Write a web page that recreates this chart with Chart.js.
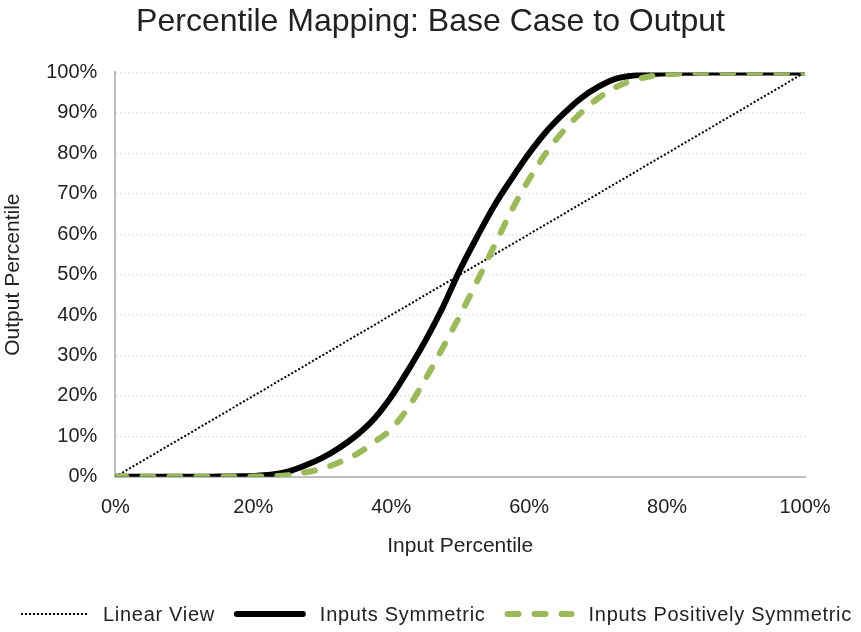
<!DOCTYPE html>
<html>
<head>
<meta charset="utf-8">
<script src="https://cdn.jsdelivr.net/npm/chart.js@4.4.1/dist/chart.umd.min.js"></script>
<style>
  html, body { margin: 0; padding: 0; background: #fff; }
  #wrap { width: 861px; height: 632px; }
</style>
</head>
<body>
<div id="wrap"><canvas id="mapChart" width="861" height="632"></canvas></div>
<script>
// input percentile steps (every 2.5%)
const inputPct = [0, 2.5, 5, 7.5, 10, 12.5, 15, 17.5, 20, 22.5, 25, 27.5, 30, 32.5, 35, 37.5, 40,
  42.5, 45, 47.5, 50, 52.5, 55, 57.5, 60, 62.5, 65, 67.5, 70, 72.5, 75, 77.5, 80, 82.5, 85, 87.5,
  90, 92.5, 95, 97.5, 100];

// output percentile, symmetric inputs
const symmetricOut = [0, 0, 0, 0, 0, 0, 0.05, 0.1, 0.2, 0.5, 1.3, 2.8, 4.7, 7.2, 10.3, 14.3, 19.8,
  26.5, 33.8, 42, 51.3, 59.5, 67.2, 73.8, 80, 85.4, 89.8, 93.6, 96.4, 98.4, 99.2, 99.6, 99.8, 99.9, 100, 100,
  100, 100, 100, 100, 100];

// output percentile, positively symmetric inputs
const positiveOut = [0, 0, 0, 0, 0, 0, 0, 0, 0.05, 0.15, 0.4, 1.1, 2.0, 3.6, 5.6, 8.5, 11.8,
  17.2, 24.3, 32, 40, 48.5, 57.3, 66, 73.6, 80.2, 85.6, 90, 93.6, 96.3, 98, 99, 99.5, 99.8, 100, 100,
  100, 100, 100, 100, 100];

// straight reference line
const linearX = [0, 100];
const linearY = [0, 100];

const xTicks = [0, 20, 40, 60, 80, 100];

const toPoints = (xs, ys) => xs.map((x, i) => ({ x: x, y: ys[i] }));

const font = "'Liberation Sans', Arial, Helvetica, sans-serif";
const textColor = "#222";
const green = "#9bbb59";

// legend drawn by hand so the dash patterns show in the samples
const lineLegend = {
  id: "lineLegend",
  afterDraw(chart) {
    const ctx = chart.ctx;
    const y = 614;
    const sampleW = [68, 72, 70];
    const toText = 14;
    const toNext = 19;
    ctx.save();
    ctx.font = "20px " + font;
    ctx.letterSpacing = "0.7px";
    const items = chart.data.datasets.map((ds, i) => ({
      ds: ds,
      w: sampleW[i],
      tw: ctx.measureText(ds.label).width,
    }));
    let total = 0;
    items.forEach((it, i) => {
      total += it.w + toText + it.tw + (i < items.length - 1 ? toNext : 0);
    });
    let x = (chart.width - total) / 2 + 6;
    items.forEach((it) => {
      ctx.beginPath();
      ctx.strokeStyle = it.ds.borderColor;
      ctx.lineWidth = it.ds.borderWidth;
      ctx.lineCap = it.ds.borderCapStyle || "butt";
      ctx.setLineDash(it.ds.borderDash || []);
      const inset = ctx.lineCap === "round" ? it.ds.borderWidth / 2 : 0;
      ctx.moveTo(x + inset, y);
      ctx.lineTo(x + it.w - inset, y);
      ctx.stroke();
      ctx.setLineDash([]);
      x += it.w + toText;
      ctx.fillStyle = textColor;
      ctx.textBaseline = "middle";
      ctx.textAlign = "left";
      ctx.fillText(it.ds.label, x, y + 1);
      x += it.tw + toNext;
    });
    ctx.restore();
  },
};

new Chart(document.getElementById("mapChart"), {
  type: "line",
  data: {
    datasets: [
      {
        label: "Linear View",
        data: toPoints(linearX, linearY),
        borderColor: "#000",
        borderWidth: 2,
        borderDash: [2, 2],
        pointRadius: 0,
        order: 2,
      },
      {
        label: "Inputs Symmetric",
        data: toPoints(inputPct, symmetricOut),
        borderColor: "#000",
        borderWidth: 6,
        borderCapStyle: "round",
        cubicInterpolationMode: "monotone",
        pointRadius: 0,
        order: 1,
      },
      {
        label: "Inputs Positively Symmetric",
        data: toPoints(inputPct, positiveOut),
        borderColor: green,
        borderWidth: 6,
        borderDash: [11, 16],
        borderCapStyle: "round",
        cubicInterpolationMode: "monotone",
        pointRadius: 0,
        order: 0,
      },
    ],
  },
  options: {
    responsive: false,
    animation: false,
    layout: { padding: { left: 0, right: 0, top: 0, bottom: 67 } },
    scales: {
      x: {
        type: "linear",
        min: 0,
        max: 100,
        afterBuildTicks: (axis) => {
          axis.ticks = xTicks.map((v) => ({ value: v }));
        },
        ticks: {
          padding: 19,
          color: textColor,
          font: { family: font, size: 20 },
          callback: (v) => v + "%",
          maxRotation: 0,
        },
        grid: { display: false, drawTicks: false },
        border: { display: true, color: "#bfbfbf", width: 2 },
        title: {
          display: true,
          text: "Input Percentile",
          color: textColor,
          font: { family: font, size: 21 },
          padding: { top: -5, bottom: 6 },
        },
      },
      y: {
        min: 0,
        max: 100,
        ticks: {
          stepSize: 10,
          padding: 18,
          color: textColor,
          font: { family: font, size: 20 },
          callback: (v) => v + "%",
        },
        grid: { color: "#d4d4d4", lineWidth: 1.2, drawTicks: false },
        border: { display: true, color: "#bfbfbf", width: 2, dash: [1.2, 2.8] },
        title: {
          display: true,
          text: "Output Percentile",
          color: textColor,
          font: { family: font, size: 21 },
          padding: { top: 1, bottom: 2 },
        },
      },
      // empty axis on the right, only keeps room for the "100%" label
      spacer: {
        type: "linear",
        position: "right",
        display: true,
        ticks: { display: false },
        grid: { display: false, drawTicks: false },
        border: { display: false },
        afterFit: (scale) => {
          scale.width = 56;
        },
      },
    },
    plugins: {
      title: {
        display: true,
        text: "Percentile Mapping: Base Case to Output",
        color: textColor,
        font: { family: font, size: 32, weight: "normal" },
        padding: { top: 3, bottom: 31 },
      },
      legend: { display: false },
      tooltip: { enabled: false },
    },
  },
  plugins: [lineLegend],
});
</script>
</body>
</html>
